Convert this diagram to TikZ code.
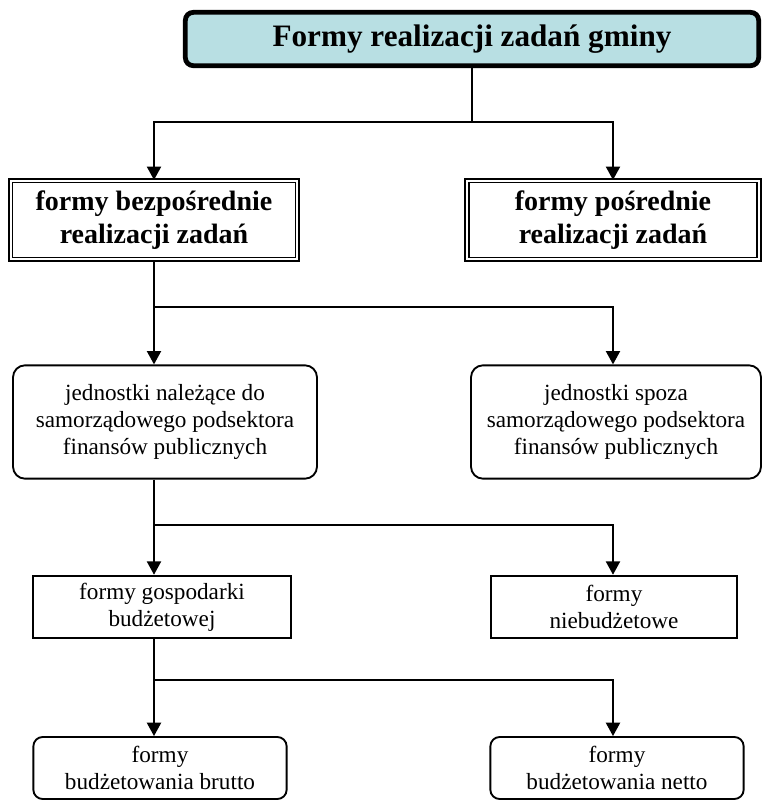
\documentclass[tikz,border=0pt]{standalone}
\usepackage{fontspec}
\setmainfont{Liberation Serif}
\usetikzlibrary{arrows.meta}
\definecolor{tytul}{RGB}{184,223,227}
\begin{document}
\begin{tikzpicture}[x=0.75pt,y=-0.75pt,
        every node/.style={rectangle, align=center, inner sep=2pt},
        glowny/.style={draw, line width=3.6pt, rounded corners=6pt, fill=tytul,
            minimum width=430pt, minimum height=40pt, font=\fontsize{23.4}{27}\selectfont\bfseries},
        podwojny/.style={draw, line width=1.1pt, double, double distance=1.6pt,
            minimum height=59pt, font=\fontsize{21}{25}\selectfont\bfseries},
        zaokr/.style={draw, line width=1.4pt, rounded corners=9pt, font=\fontsize{17.4}{20.3}\selectfont},
        prosty/.style={draw, line width=1.4pt, font=\fontsize{17.4}{20.3}\selectfont},
        strz/.style={line width=1.5pt, -{Triangle[width=10.5pt,length=10pt]}},
        linia/.style={line width=1.5pt}
        ]
        \useasboundingbox (0,0) rectangle (768,801);
        % Tytul
        \node[glowny] (gmina) at (472,39) {Formy realizacji zadań gminy};
        
        % Poziom 1
        \node[podwojny, minimum width=215pt] (bezp) at (154,220) {formy bezpośrednie\\realizacji zadań};
        \node[podwojny, minimum width=219pt] (posr) at (613,220) {formy pośrednie\\realizacji zadań};
        
        % Poziom 2
        \node[zaokr, minimum width=228pt, minimum height=85pt] (nalez) at (165,422) {jednostki należące do\\samorządowego podsektora\\finansów publicznych};
        \node[zaokr, minimum width=217.5pt, minimum height=85pt] (spoza) at (616,422) {jednostki spoza\\samorządowego podsektora\\finansów publicznych};
        
        % Poziom 3
        \node[prosty, minimum width=193.5pt, minimum height=47pt] (gosp) at (162,607) {formy gospodarki\\budżetowej};
        \node[prosty, minimum width=184.5pt, minimum height=47pt] (niebud) at (614,607) {formy\\niebudżetowe};
        
        % Poziom 4
        \node[zaokr, rounded corners=7pt, minimum width=190pt, minimum height=46.5pt] (brutto) at (160,768) {formy\\budżetowania brutto};
        \node[zaokr, rounded corners=7pt, minimum width=190pt, minimum height=46.5pt] (netto) at (617,768) {formy\\budżetowania netto};
        
        % Polaczenia
        \coordinate (w1) at (472,122);
        \draw[linia] (gmina.south) -- (w1);
        \draw[strz] (w1) -| (bezp.north);
        \draw[strz] (w1) -| (posr.north);
        
        \coordinate (w2) at (154,307);
        \draw[strz] (bezp.south) -- (bezp.south |- nalez.north);
        \draw[strz] (w2) -| (posr.south |- spoza.north);
        
        \coordinate (w3) at (154,525);
        \draw[strz] (bezp.south |- nalez.south) -- (bezp.south |- gosp.north);
        \draw[strz] (w3) -| (posr.south |- niebud.north);
        
        \coordinate (w4) at (154,680);
        \draw[strz] (bezp.south |- gosp.south) -- (bezp.south |- brutto.north);
        \draw[strz] (w4) -| (posr.south |- netto.north);
        \end{tikzpicture}
\end{document}
